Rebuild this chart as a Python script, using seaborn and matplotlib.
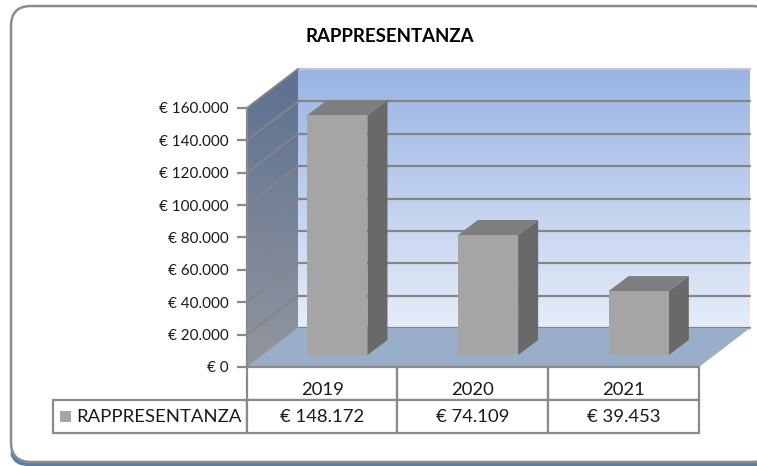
import numpy as np
import pandas as pd
import matplotlib
matplotlib.use("Agg")
import matplotlib.pyplot as plt
import seaborn as sns
from matplotlib.patches import FancyBboxPatch, Polygon, Rectangle
from matplotlib.lines import Line2D
from matplotlib.transforms import Affine2D, IdentityTransform
from matplotlib.colors import LinearSegmentedColormap

# data
years = ["2019", "2020", "2021"]
values = [148172, 74109, 39453]
value_labels = ["€ 148.172", "€ 74.109", "€ 39.453"]
y_ticks = [0, 20000, 40000, 60000, 80000, 100000, 120000, 140000, 160000]
y_tick_labels = ["€ 0", "€ 20.000", "€ 40.000", "€ 60.000", "€ 80.000",
                 "€ 100.000", "€ 120.000", "€ 140.000", "€ 160.000"]
series_name = "RAPPRESENTANZA"

W, H = 757, 466
sns.set_theme(style="white")
plt.rcParams["font.family"] = ["Lato", "DejaVu Sans"]
GREY = "#8a8a8a"
TXT = "#1a1a1a"
pix = IdentityTransform()

fig = plt.figure(figsize=(W / 100, H / 100), dpi=100, facecolor="white")

# outer rounded frame, its right side is cropped by the image edge
fig.add_artist(FancyBboxPatch((10, 0), 770, 24, boxstyle="round,pad=0,rounding_size=18",
                              fc="#4f7fb5", ec="none", transform=pix, zorder=-2))
fig.add_artist(FancyBboxPatch((11, 4), 761, 456, boxstyle="round,pad=0,rounding_size=20",
                              fc="white", ec="#8c8c8c", lw=1.8, transform=pix, zorder=-1))

# axes = front plane of the 3d box
ax = fig.add_axes([247 / W, (H - 367) / H, 452 / W, 259 / H], facecolor="none")
df = pd.DataFrame({"anno": years, "valore": values})
sns.barplot(data=df, x="anno", y="valore", color="#a5a5a5", saturation=1, width=0.4, ax=ax, zorder=5,
            edgecolor="none", linewidth=0)
ax.set_xlim(-0.5, 2.5)
ax.set_ylim(0, 160000)
xlim, ylim = ax.get_xlim(), ax.get_ylim()

# depth of the box and of the bars, in pixels
BX, BY = 51, 39
OX, OY = 15, 12
DX, DY = 20, 15


def to_px(x, y):
    return ax.transData.transform((x, y))


fl, fr = to_px(-0.5, 0), to_px(2.5, 0)
tl, tr = to_px(-0.5, y_ticks[-1]), to_px(2.5, y_ticks[-1])
back = np.array([BX, BY])

wall_cmap = LinearSegmentedColormap.from_list("wall", ["#e6edf9", "#99b4e3"])
side_cmap = LinearSegmentedColormap.from_list("side", ["#92969f", "#5c7091"])
grad = np.linspace(1, 0, 256).reshape(-1, 1)

# back wall
ax.imshow(grad, cmap=wall_cmap, aspect="auto", zorder=0, transform=pix, clip_on=False,
          extent=(fl[0] + BX, fr[0] + BX, fl[1] + BY, tl[1] + BY))
# left wall
side = ax.imshow(grad, cmap=side_cmap, aspect="auto", zorder=0, transform=pix,
                 extent=(fl[0], fl[0] + BX, fl[1], tl[1] + BY))
side.set_clip_box(fig.bbox)
side.set_clip_path(Polygon([fl, fl + back, tl + back, tl], transform=pix))
ax.set_xlim(xlim)
ax.set_ylim(ylim)

# gridlines on back and left walls
for v in y_ticks:
    a, b = to_px(-0.5, v), to_px(2.5, v)
    col = "#c4c4c4" if v == y_ticks[-1] else "#858585"
    ax.add_line(Line2D([a[0] + BX, b[0] + BX], [a[1] + BY, b[1] + BY], color=col, lw=1.6,
                       transform=pix, zorder=1, clip_on=False))
    ax.add_line(Line2D([a[0], a[0] + BX], [a[1], a[1] + BY], color="#858585" if v > 0 else "#9a9a9a",
                       lw=1.4, transform=pix, zorder=1, clip_on=False))

# floor
ax.add_patch(Polygon([fl, fr, fr + back, fl + back], fc="#99aec8", ec="none",
                     transform=pix, zorder=2, clip_on=False))

# bars: front face comes from seaborn, shifted in depth, sides are built on it
shift = Affine2D().translate(OX, OY)
for bar in list(ax.patches):
    if not isinstance(bar, Rectangle) or bar.get_zorder() != 5:
        continue
    x0, x1, h = bar.get_x(), bar.get_x() + bar.get_width(), bar.get_height()
    bl, br = to_px(x0, 0) + (OX, OY), to_px(x1, 0) + (OX, OY)
    ul, ur = to_px(x0, h) + (OX, OY), to_px(x1, h) + (OX, OY)
    d = np.array([DX, DY])
    ax.add_patch(Polygon([br, br + d, ur + d, ur], fc="#696969", ec="none", transform=pix,
                         zorder=4, clip_on=False))
    ax.add_patch(Polygon([ul, ur, ur + d, ul + d], fc="#7e7e7e", ec="none", transform=pix,
                         zorder=4, clip_on=False))
    bar.set_transform(ax.transData + shift)
    bar.set_clip_on(False)

# value axis, the years sit in the first row of the table as x tick labels
ax.set_xlabel("")
ax.set_ylabel("")
ax.set_yticks(y_ticks)
ax.set_yticklabels(y_tick_labels, fontsize=11, color=TXT)
ax.tick_params(axis="y", left=True, length=7, width=1.6, color=GREY, pad=6)
ax.tick_params(axis="x", bottom=False, length=0, labelbottom=True, labelsize=13.3, labelcolor=TXT, pad=11)
sns.despine(ax=ax, top=True, right=True, bottom=True)
ax.spines["left"].set_color(GREY)
ax.spines["left"].set_linewidth(1.6)

# data table
t_left = (53 - 247) / 452
t_h = (433 - 367) / 259
tbl = ax.table(cellText=[[""] * 4, [series_name] + value_labels],
               bbox=[t_left, -t_h, 1 - t_left, t_h], cellLoc="center", zorder=3,
               colWidths=[194 / 646, 150 / 646, 151 / 646, 151 / 646])
tbl.auto_set_font_size(False)
for (r, c), cell in tbl.get_celld().items():
    cell.set_edgecolor(GREY)
    cell.set_linewidth(1.6)
    cell.set_facecolor("none" if r == 0 else "white")
    cell.get_text().set_fontsize(13.3)
    cell.get_text().set_color(TXT)
tbl[(0, 0)].visible_edges = ""
tbl[(1, 0)].PAD = 0.12
tbl[(1, 0)].get_text().set_horizontalalignment("left")
fig.add_artist(Rectangle((60, H - 422), 11, 11, fc="#a5a5a5", ec="none", transform=pix, zorder=5))

# title
fig.text(390 / W, (H - 36) / H, series_name, ha="center", va="center",
         fontsize=13.4, fontweight="bold", color="black")

fig.savefig("out.png", dpi=100, facecolor="white")
